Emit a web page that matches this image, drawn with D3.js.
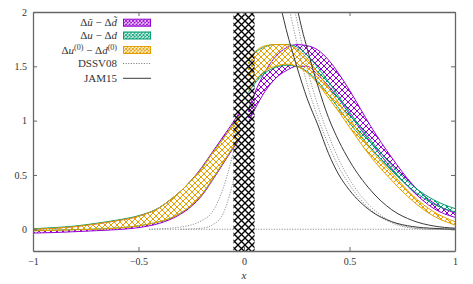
<!DOCTYPE html>
<html>
<head>
<meta charset="utf-8">
<script src="https://cdn.jsdelivr.net/npm/d3@7"></script>
<style>
  body { margin: 0; background: #fff; }
  svg { display: block; }
  svg text { font-family: "Liberation Serif", "DejaVu Serif", serif; }
</style>
</head>
<body>
<svg id="chart" width="473" height="284"></svg>
<script>
// x < 0 side of the bands
const xLeft      = [-1, -0.9, -0.8, -0.7, -0.6, -0.5, -0.4, -0.35, -0.3, -0.25, -0.2, -0.15, -0.1, -0.05, -0.02];
const ubarLeftHi = [0.0, 0.01, 0.025, 0.05, 0.08, 0.12, 0.2, 0.27, 0.35, 0.45, 0.57, 0.71, 0.85, 0.99, 1.08];
const ubarLeftLo = [-0.035, -0.03, -0.022, -0.013, -0.003, 0.015, 0.055, 0.09, 0.14, 0.21, 0.31, 0.45, 0.60, 0.75, 0.83];
const uvLeftHi   = [0.005, 0.015, 0.03, 0.055, 0.085, 0.125, 0.2, 0.27, 0.35, 0.45, 0.56, 0.70, 0.83, 0.97, 1.05];
const uvLeftLo   = [-0.012, -0.008, -0.003, 0.002, 0.012, 0.032, 0.07, 0.10, 0.15, 0.22, 0.32, 0.46, 0.61, 0.76, 0.84];
const u0LeftHi   = [0.0, 0.01, 0.025, 0.05, 0.08, 0.12, 0.2, 0.27, 0.35, 0.45, 0.56, 0.70, 0.83, 0.97, 1.05];
const u0LeftLo   = [-0.015, -0.01, -0.005, 0.0, 0.01, 0.03, 0.07, 0.10, 0.15, 0.22, 0.32, 0.46, 0.61, 0.76, 0.84];

// x > 0 side of the bands
const xRight      = [0.02, 0.05, 0.1, 0.15, 0.2, 0.25, 0.3, 0.35, 0.4, 0.45, 0.5, 0.6, 0.7, 0.8, 0.9, 1.0];
const ubarRightHi = [1.10, 1.25, 1.45, 1.59, 1.67, 1.70, 1.69, 1.65, 1.56, 1.43, 1.28, 0.95, 0.66, 0.41, 0.24, 0.15];
const ubarRightLo = [0.98, 1.10, 1.27, 1.39, 1.46, 1.50, 1.50, 1.42, 1.32, 1.20, 1.06, 0.80, 0.56, 0.35, 0.19, 0.11];
const uvRightHi   = [1.55, 1.62, 1.68, 1.70, 1.70, 1.68, 1.60, 1.49, 1.36, 1.22, 1.08, 0.82, 0.59, 0.40, 0.27, 0.19];
const uvRightLo   = [1.26, 1.34, 1.44, 1.49, 1.51, 1.50, 1.45, 1.36, 1.24, 1.11, 0.98, 0.75, 0.54, 0.36, 0.23, 0.16];
const u0RightHi   = [1.57, 1.63, 1.69, 1.70, 1.70, 1.66, 1.57, 1.44, 1.30, 1.16, 1.02, 0.74, 0.52, 0.31, 0.16, 0.07];
const u0RightLo   = [1.28, 1.36, 1.46, 1.50, 1.52, 1.50, 1.44, 1.34, 1.21, 1.08, 0.94, 0.67, 0.45, 0.26, 0.12, 0.04];

// JAM15 band edges (solid)
const jamX1 = [0.18, 0.2, 0.25, 0.3, 0.35, 0.4, 0.45, 0.5, 0.6, 0.7, 0.8, 0.9, 1.0];
const jam1  = [2.0, 1.84, 1.50, 1.20, 0.96, 0.70, 0.50, 0.36, 0.17, 0.07, 0.025, 0.008, 0.0];
const jamX2 = [0.256, 0.275, 0.3, 0.35, 0.4, 0.45, 0.5, 0.6, 0.7, 0.8, 0.9, 1.0];
const jam2  = [2.0, 1.84, 1.66, 1.32, 1.03, 0.81, 0.63, 0.36, 0.18, 0.08, 0.03, 0.01];

// DSSV08 band edges (dotted)
const dssvX1 = [0.218, 0.25, 0.3, 0.35, 0.4, 0.45, 0.5, 0.6, 0.7, 0.8, 0.9, 1.0];
const dssv1  = [2.0, 1.72, 1.33, 1.03, 0.78, 0.57, 0.41, 0.18, 0.06, 0.01, 0.0, 0.0];
const dssvX2 = [0.242, 0.25, 0.3, 0.35, 0.4, 0.45, 0.5, 0.6, 0.7, 0.8, 0.9, 1.0];
const dssv2  = [2.0, 1.93, 1.48, 1.14, 0.87, 0.64, 0.46, 0.21, 0.07, 0.015, 0.0, 0.0];
const dssvNegX1 = [-0.45, -0.35, -0.3, -0.25, -0.2, -0.15, -0.1, -0.066, -0.05, -0.03];
const dssvNeg1  = [0.0, 0.01, 0.02, 0.04, 0.08, 0.16, 0.37, 0.59, 0.71, 0.8];
const dssvNegX2 = [-0.3, -0.2, -0.15, -0.1, -0.066, -0.05, -0.03];
const dssvNeg2  = [0.0, 0.01, 0.04, 0.14, 0.33, 0.45, 0.55];
const zeroX = [-0.45, 1.0];
const zeroY = [0, 0];

// excluded region
const cutX = [-0.05, 0.05];

const xTicks = [-1, -0.5, 0, 0.5, 1];
const yTicks = [0, 0.5, 1, 1.5, 2];

const svg = d3.select('#chart');
const plotL = 33, plotR = 455, plotT = 12, plotB = 251;
const serif = '"Liberation Serif", "DejaVu Serif", serif';

const x = d3.scaleLinear().domain([-1, 1]).range([plotL, plotR]);
const y = d3.scaleLinear().domain([-0.2, 2]).range([plotB, plotT]);

const purple = '#9400d3', green = '#009e73', orange = '#e69f00';

const defs = svg.append('defs');
const hatch = (id, color, size, sw) => {
  const p = defs.append('pattern').attr('id', id)
    .attr('patternUnits', 'userSpaceOnUse')
    .attr('width', size).attr('height', size);
  p.append('path')
    .attr('d', `M0,0L${size},${size}M${size},0L0,${size}`)
    .attr('stroke', color).attr('stroke-width', sw).attr('fill', 'none');
};
hatch('h-purple', purple, 6, 1);
hatch('h-green', green, 6, 1);
hatch('h-orange', orange, 6, 1);
hatch('h-black', '#000', 7, 1.3);
hatch('k-purple', purple, 3.5, 0.9);
hatch('k-green', green, 3.5, 0.9);
hatch('k-orange', orange, 3.5, 0.9);

defs.append('clipPath').attr('id', 'clip')
  .append('rect').attr('x', plotL).attr('y', plotT)
  .attr('width', plotR - plotL).attr('height', plotB - plotT);

const plot = svg.append('g').attr('clip-path', 'url(#clip)');

const area = d3.area()
  .x(d => x(d.x)).y0(d => y(d.lo)).y1(d => y(d.hi))
  .curve(d3.curveMonotoneX);
const line = d3.line()
  .x(d => x(d[0])).y(d => y(d[1]))
  .curve(d3.curveMonotoneX);

const band = (xs, lo, hi) => xs.map((v, i) => ({ x: v, lo: lo[i], hi: hi[i] }));

const bands = [
  { id: 'purple', color: purple, parts: [band(xLeft, ubarLeftLo, ubarLeftHi), band(xRight, ubarRightLo, ubarRightHi)] },
  { id: 'green',  color: green,  parts: [band(xLeft, uvLeftLo, uvLeftHi), band(xRight, uvRightLo, uvRightHi)] },
  { id: 'orange', color: orange, parts: [band(xLeft, u0LeftLo, u0LeftHi), band(xRight, u0RightLo, u0RightHi)] }
];

bands.forEach(b => {
  b.parts.forEach(part => {
    plot.append('path').datum(part)
      .attr('d', area)
      .attr('fill', `url(#h-${b.id})`);
    ['lo', 'hi'].forEach(k => {
      plot.append('path')
        .datum(part.map(d => [d.x, d[k]]))
        .attr('d', line)
        .attr('fill', 'none')
        .attr('stroke', b.color)
        .attr('stroke-width', 1);
    });
  });
});

// DSSV08 dotted
const dotted = [[zeroX, zeroY], [dssvX1, dssv1], [dssvX2, dssv2], [dssvNegX1, dssvNeg1], [dssvNegX2, dssvNeg2]];
dotted.forEach(([xs, ys]) => {
  plot.append('path')
    .datum(xs.map((v, i) => [v, ys[i]]))
    .attr('d', line)
    .attr('fill', 'none')
    .attr('stroke', '#888')
    .attr('stroke-width', 0.9)
    .attr('stroke-dasharray', '1.2,1.4');
});

// JAM15 solid
[[jamX1, jam1], [jamX2, jam2]].forEach(([xs, ys]) => {
  plot.append('path')
    .datum(xs.map((v, i) => [v, ys[i]]))
    .attr('d', line)
    .attr('fill', 'none')
    .attr('stroke', '#3a3a3a')
    .attr('stroke-width', 1);
});

// hatched cut region
plot.append('rect')
  .attr('x', x(cutX[0])).attr('y', plotT)
  .attr('width', x(cutX[1]) - x(cutX[0])).attr('height', plotB - plotT)
  .attr('fill', 'url(#h-black)');

// axes (ticks point inward, gnuplot style)
const fmt = d3.format('~g');
const axisStyle = g => {
  g.attr('font-family', serif).attr('font-size', 10);
  g.select('.domain').attr('stroke', '#666').attr('stroke-width', 1.3);
  g.selectAll('.tick line').attr('stroke', '#666');
  g.selectAll('.tick text').attr('fill', '#333');
};
svg.append('g').attr('transform', `translate(0,${plotB})`)
  .call(d3.axisBottom(x).tickValues(xTicks).tickSize(-4).tickSizeOuter(0).tickPadding(7).tickFormat(fmt))
  .call(axisStyle);
svg.append('g').attr('transform', `translate(0,${plotT})`)
  .call(d3.axisTop(x).tickValues(xTicks).tickSize(-4).tickSizeOuter(0).tickFormat(''))
  .call(axisStyle);
svg.append('g').attr('transform', `translate(${plotL},0)`)
  .call(d3.axisLeft(y).tickValues(yTicks).tickSize(-4).tickSizeOuter(0).tickPadding(6).tickFormat(fmt))
  .call(axisStyle);
svg.append('g').attr('transform', `translate(${plotR},0)`)
  .call(d3.axisRight(y).tickValues(yTicks).tickSize(-4).tickSizeOuter(0).tickFormat(''))
  .call(axisStyle);

svg.append('text')
  .attr('x', x(0)).attr('y', 279)
  .attr('text-anchor', 'middle')
  .attr('font-size', 11).attr('font-style', 'italic').attr('fill', '#333')
  .text('x');

// legend
const legend = svg.append('g').attr('font-size', 11).attr('fill', '#333');
const keyRows = [
  { y: 22.7, parts: [['Δ'], ['ũ', 'i'], [' − Δ'], ['d̃', 'i']], swatch: 'purple', color: purple },
  { y: 35.5, parts: [['Δ'], ['u', 'i'], [' − Δ'], ['d', 'i']], swatch: 'green', color: green },
  { y: 50, parts: [['Δ'], ['u', 'i'], ['(0)', 's'], [' − Δ'], ['d', 'i'], ['(0)', 's']], swatch: 'orange', color: orange },
  { y: 63.5, parts: [['DSSV08']], dash: '1.2,1.4', color: '#888' },
  { y: 78.3, parts: [['JAM15']], color: '#3a3a3a' }
];
keyRows.forEach(r => {
  const t = legend.append('text')
    .attr('x', 117).attr('y', r.y + 3.6)
    .attr('text-anchor', 'end');
  let shifted = false;
  r.parts.forEach(([s, kind]) => {
    const ts = t.append('tspan').text(s);
    if (kind === 'i') ts.attr('font-style', 'italic');
    if (kind === 's') {
      ts.attr('font-size', 8).attr('dy', -4);
      shifted = true;
    } else if (shifted) {
      ts.attr('dy', 4);
      shifted = false;
    }
  });
  if (r.swatch) {
    legend.append('rect')
      .attr('x', 123.5).attr('y', r.y - 3.5)
      .attr('width', 27).attr('height', 7)
      .attr('fill', `url(#k-${r.swatch})`)
      .attr('stroke', r.color).attr('stroke-width', 1);
  } else {
    legend.append('line')
      .attr('x1', 123).attr('x2', 151)
      .attr('y1', r.y).attr('y2', r.y)
      .attr('stroke', r.color).attr('stroke-width', 1)
      .attr('stroke-dasharray', r.dash || null);
  }
});
</script>
</body>
</html>
